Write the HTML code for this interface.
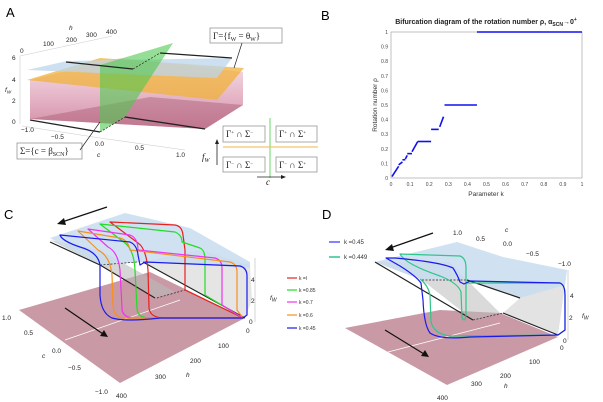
<!DOCTYPE html>
<html><head><meta charset="utf-8">
<style>
html,body{margin:0;padding:0;background:#fff;}
svg{display:block;font-family:"Liberation Sans",sans-serif;}
.lbl{font-size:13px;}
.t{font-size:6.5px;fill:#222;}
.tb{font-size:7px;font-weight:bold;fill:#222;}
.math{font-family:"Liberation Serif",serif;font-size:9px;fill:#222;}
</style></head>
<body>
<svg id="fig" width="603" height="402" viewBox="0 0 603 402">
<defs>
<linearGradient id="pinkG" x1="0" y1="0" x2="0" y2="1">
<stop offset="0" stop-color="#f3d3e0" stop-opacity="0.7"/><stop offset="1" stop-color="#c9708f" stop-opacity="0.8"/>
</linearGradient>
</defs>
<!-- PANEL A -->
<g>
<text x="6" y="17" class="lbl">A</text>
<g stroke="#ccc" stroke-width="0.6" fill="none">
<line x1="20" y1="56" x2="20" y2="124"/><line x1="20" y1="56" x2="112" y2="36"/><line x1="22" y1="126" x2="100" y2="138"/><line x1="100" y1="138" x2="185" y2="150"/>
</g>
<polygon points="30,119 205,129 243,105 243,72 120,58 30,80" fill="url(#pinkG)"/>
<polygon points="30,119 205,129 243,105 150,97" fill="#a85a74" opacity="0.45"/>
<polygon points="27,80 217,100 244,68 100,58" fill="#f0b23a" opacity="0.75"/>
<polygon points="27,70 217,78 232,58 67,61" fill="#bcd6ec" opacity="0.75"/>
<polygon points="100,65 100,132 125,117 173,43" fill="#4fc84f" opacity="0.6"/>
<g stroke="#222" stroke-width="1.3">
<line x1="66" y1="62" x2="133" y2="69"/><line x1="160" y1="53" x2="232" y2="58"/>
<line x1="30" y1="120" x2="100" y2="132"/><line x1="125" y1="117" x2="205" y2="129"/>
</g>
<g stroke="#222" stroke-width="0.7" stroke-dasharray="2,1.5"><line x1="133" y1="69" x2="160" y2="53"/><line x1="100" y1="132" x2="125" y2="117"/></g>
<g class="t">
<text x="12" y="60">6</text><text x="12" y="82">4</text><text x="12" y="103">2</text><text x="12" y="124">0</text>
<text x="5" y="92" font-style="italic">f<tspan font-size="4.5" dy="1.5">W</tspan></text>
<text x="20" y="53">0</text><text x="43" y="46">100</text><text x="66" y="42">200</text><text x="86" y="37">300</text><text x="106" y="34">400</text>
<text x="69" y="30" font-style="italic">h</text>
<text x="21" y="132">−1.0</text><text x="51" y="139">−0.5</text><text x="95" y="146">0.0</text><text x="135" y="150">0.5</text><text x="176" y="157">1.0</text>
<text x="97" y="157" font-style="italic">c</text>
</g>
<rect x="210" y="28" width="72" height="15" fill="#fff" stroke="#888" stroke-width="0.7"/>
<text x="213" y="39" class="math">Γ={f<tspan font-size="6" dy="2">W</tspan><tspan dy="-2"> = θ</tspan><tspan font-size="6" dy="2">W</tspan><tspan dy="-2">}</tspan></text>
<line x1="242" y1="43" x2="234" y2="68" stroke="#222" stroke-width="0.7"/>
<rect x="17" y="143" width="65" height="16" fill="#fff" stroke="#888" stroke-width="0.7"/>
<text x="20" y="154" class="math">Σ={c = β<tspan font-size="6" dy="2">SCN</tspan><tspan dy="-2">}</tspan></text>
<line x1="80" y1="150" x2="100" y2="122" stroke="#222" stroke-width="0.7"/>
<g>
<line x1="270" y1="118" x2="270" y2="178" stroke="#7ee07e" stroke-width="1.2"/>
<line x1="223" y1="147" x2="318" y2="147" stroke="#f4c36a" stroke-width="1.2"/>
<rect x="223" y="126" width="42" height="16" fill="#fff" stroke="#888" stroke-width="0.7"/>
<rect x="276" y="126" width="41" height="16" fill="#fff" stroke="#888" stroke-width="0.7"/>
<rect x="223" y="157" width="42" height="15" fill="#fff" stroke="#888" stroke-width="0.7"/>
<rect x="276" y="157" width="41" height="15" fill="#fff" stroke="#888" stroke-width="0.7"/>
<text x="226" y="137" class="math" font-size="8">Γ<tspan font-size="5" dy="-3">+</tspan><tspan dy="3"> ∩ Σ</tspan><tspan font-size="5" dy="-3">−</tspan></text>
<text x="279" y="137" class="math" font-size="8">Γ<tspan font-size="5" dy="-3">+</tspan><tspan dy="3"> ∩ Σ</tspan><tspan font-size="5" dy="-3">+</tspan></text>
<text x="226" y="168" class="math" font-size="8">Γ<tspan font-size="5" dy="-3">−</tspan><tspan dy="3"> ∩ Σ</tspan><tspan font-size="5" dy="-3">−</tspan></text>
<text x="279" y="168" class="math" font-size="8">Γ<tspan font-size="5" dy="-3">−</tspan><tspan dy="3"> ∩ Σ</tspan><tspan font-size="5" dy="-3">+</tspan></text>
<line x1="217" y1="165" x2="217" y2="142" stroke="#222" stroke-width="0.8"/><polygon points="217,139 215,144 219,144" fill="#222"/>
<text x="202" y="160" class="math" font-size="10" font-style="italic">f<tspan font-size="6" dy="2">W</tspan></text>
<line x1="257" y1="177" x2="282" y2="177" stroke="#222" stroke-width="0.8"/><polygon points="286,177 281,175 281,179" fill="#222"/>
<text x="266" y="185" class="math" font-style="italic">c</text>
</g>
</g>

<!-- PANEL B -->
<g id="panelB">
<text x="321" y="20" class="lbl">B</text>
<text x="486" y="24" text-anchor="middle" class="tb">Bifurcation diagram of the rotation number ρ, α<tspan font-size="5" dy="2">SCN</tspan><tspan dy="-2">→0</tspan><tspan font-size="5" dy="-3">+</tspan></text>
<rect x="391" y="32" width="191" height="146" fill="none" stroke="#999" stroke-width="0.6"/>
<text x="486" y="196" text-anchor="middle" font-size="6.5" fill="#333">Parameter k</text>
<text transform="translate(377,105) rotate(-90)" text-anchor="middle" font-size="6.5" fill="#333">Rotation number ρ</text>
<g id="bTicks"></g>
<g id="bMarks"></g>
</g>

<!-- PANEL C -->
<g>
<text x="4" y="219" class="lbl">C</text>
<polygon points="19,310 120,383 245,318 150,272" fill="#c99aa5"/>
<line x1="65" y1="340" x2="180" y2="300" stroke="#fff" stroke-width="0.7"/>
<polygon points="50,240 100,265 155,298 175,292 100,250" fill="#bbb" opacity="0.6"/>
<polygon points="143,262 245,318 252,300 250,265 200,250" fill="#ccc" opacity="0.5"/>
<polygon points="50,238 125,213 190,228 250,262 250,268 143,262 100,265" fill="#c8dcee" opacity="0.85"/>
<g stroke="#222" stroke-width="1.2"><line x1="50" y1="242" x2="100" y2="265"/><line x1="100" y1="265" x2="155" y2="298"/><line x1="143" y1="262" x2="245" y2="318"/></g>
<g stroke="#222" stroke-width="0.7" stroke-dasharray="2,1.5"><line x1="100" y1="265" x2="137" y2="262"/><line x1="157" y1="298" x2="185" y2="290"/></g>
<g fill="none" stroke-width="1.2" stroke-linejoin="round">
<path stroke="#e8211d" d="M110,222 L175,225 Q182,226 183,235 L185,250 L185,290 L243,318 L165,318 Q150,318 149,308 L148,270 Q146,248 138,243 Z"/>
<path stroke="#22dd22" d="M100,224 L175,232 Q182,235 182,242 L200,248 Q205,250 205,260 L205,295 L243,318 L150,318 Q137,318 137,308 L135,270 Q134,250 125,243 Z"/>
<path stroke="#ee33ee" d="M88,229 L130,235 Q138,238 138,250 L215,258 Q222,260 222,268 L222,305 L243,318 L135,318 Q122,318 122,308 L120,270 Q118,252 108,247 Z"/>
<path stroke="#f7901e" d="M78,231 L120,238 Q128,240 130,250 L230,262 Q237,264 237,272 L237,310 L243,318 L125,318 Q114,318 113,306 L112,275 Q110,256 98,250 Z"/>
<path stroke="#1a1aee" d="M60,235 L130,242 Q137,245 138,255 L140,265 L145,262 L240,266 Q247,268 247,276 L247,315 L243,318 L160,318 Q125,322 112,318 Q101,313 100,295 L100,265 Q98,252 80,247 Q62,241 60,235 Z"/>
</g>
<line x1="107" y1="207" x2="62" y2="222" stroke="#111" stroke-width="1.2"/><polygon points="57,224 64,218 66,225" fill="#111"/>
<line x1="65" y1="308" x2="103" y2="334" stroke="#111" stroke-width="1.2"/><polygon points="108,337 100,336 104,330" fill="#111"/>
<line x1="255" y1="258" x2="255" y2="322" stroke="#bbb" stroke-width="0.6"/>
<g class="t" font-size="7">
<text x="251" y="282">4</text><text x="251" y="303">2</text><text x="249" y="324">0</text>
<text x="270" y="300" font-style="italic">f<tspan font-size="5" dy="1.5">W</tspan></text>
<text x="246" y="333">0</text><text x="218" y="348">100</text><text x="190" y="363">200</text><text x="155" y="379">300</text><text x="116" y="398">400</text>
<text x="186" y="377" font-style="italic">h</text>
<text x="2" y="320">1.0</text><text x="24" y="335">0.5</text><text x="52" y="353">0.0</text><text x="68" y="370">−0.5</text><text x="95" y="394">−1.0</text>
<text x="42" y="358" font-style="italic">c</text>
</g>
<g font-size="5" fill="#333">
<line x1="287" y1="278" x2="297" y2="278" stroke="#e8211d" stroke-width="1.2"/><text x="299" y="280">k =l</text>
<line x1="287" y1="290" x2="297" y2="290" stroke="#22dd22" stroke-width="1.2"/><text x="299" y="292">k =0.85</text>
<line x1="287" y1="302" x2="297" y2="302" stroke="#ee33ee" stroke-width="1.2"/><text x="299" y="304">k =0.7</text>
<line x1="287" y1="315" x2="297" y2="315" stroke="#f7901e" stroke-width="1.2"/><text x="299" y="317">k =0.6</text>
<line x1="287" y1="328" x2="297" y2="328" stroke="#1a1aee" stroke-width="1.2"/><text x="299" y="330">k =0.45</text>
</g>
</g>

<!-- PANEL D -->
<g>
<text x="322" y="219" class="lbl">D</text>
<polygon points="345,328 447,385 558,337 500,313 440,310" fill="#c99aa5"/>
<line x1="388" y1="352" x2="500" y2="323" stroke="#fff" stroke-width="0.7"/>
<polygon points="375,262 422,280 473,320 500,313 467,280 450,262" fill="#bbb" opacity="0.55"/>
<polygon points="467,280 520,298 503,313 558,335 565,285" fill="#ccc" opacity="0.55"/>
<polygon points="375,262 457,242 503,257 567,270 565,285 520,298 467,280 422,280" fill="#c8dcee" opacity="0.85"/>
<g stroke="#222" stroke-width="1.2"><line x1="375" y1="262" x2="473" y2="320"/><line x1="467" y1="280" x2="520" y2="298"/><line x1="503" y1="313" x2="558" y2="335"/></g>
<g stroke="#222" stroke-width="0.7" stroke-dasharray="2,1.5"><line x1="422" y1="280" x2="467" y2="280"/><line x1="473" y1="320" x2="503" y2="313"/></g>
<g fill="none" stroke-width="1.2" stroke-linejoin="round">
<path stroke="#2ec68a" d="M400,254 L460,256 Q466,258 466,268 L466,315 Q465,323 462,318 L461,292 Q458,283 440,276 Q405,264 400,254 Z M467,283 L560,283 Q565,285 565,295 L565,330 L558,335 L450,336 Q434,334 431,322 L430,295 Q428,285 420,279"/>
<path stroke="#1a1aee" d="M386,258 L395,258 Q440,262 453,268 Q458,276 460,282 L464,284 L470,281 L560,283 Q565,285 565,295 L565,330 L558,335 L470,337 Q440,340 430,333 Q424,325 423,300 L421,283 Q416,276 400,266 Z"/>
</g>
<line x1="433" y1="233" x2="390" y2="248" stroke="#111" stroke-width="1.2"/><polygon points="385,250 392,244 394,251" fill="#111"/>
<line x1="385" y1="330" x2="424" y2="354" stroke="#111" stroke-width="1.2"/><polygon points="429,357 421,356 425,350" fill="#111"/>
<line x1="568" y1="270" x2="568" y2="340" stroke="#bbb" stroke-width="0.6"/>
<g class="t" font-size="7">
<text x="453" y="235">1.0</text><text x="476" y="241">0.5</text><text x="505" y="232" font-style="italic">c</text><text x="503" y="246">0.0</text><text x="526" y="256">−0.5</text><text x="558" y="266">−1.0</text>
<text x="570" y="298">4</text><text x="569" y="320">2</text><text x="563" y="343">0</text>
<text x="582" y="318" font-style="italic">f<tspan font-size="5" dy="1.5">W</tspan></text>
<text x="560" y="350">0</text><text x="529" y="364">100</text><text x="500" y="378">200</text><text x="504" y="388" font-style="italic">h</text><text x="471" y="386">300</text><text x="437" y="400">400</text>
</g>
<g font-size="6" fill="#333">
<line x1="329" y1="242" x2="340" y2="242" stroke="#5a5aff" stroke-width="1.5"/><text x="344" y="244">k =0.45</text>
<line x1="329" y1="257" x2="340" y2="257" stroke="#2ec68a" stroke-width="1.5"/><text x="344" y="259">k =0.449</text>
</g>
</g>
</svg>
<script>
// Panel B data: devil's staircase segments
const segKStart = [0.005, 0.04, 0.06, 0.075, 0.085, 0.11, 0.14, 0.21, 0.255, 0.28, 0.45];
const segKEnd   = [0.04, 0.06, 0.075, 0.085, 0.11, 0.14, 0.21, 0.25, 0.275, 0.45, 1.0];
const segRhoStart = [0.01, 0.09, 0.125, 0.13, 0.167, 0.18, 0.25, 0.333, 0.35, 0.5, 1.0];
const segRhoEnd   = [0.08, 0.11, 0.125, 0.155, 0.167, 0.25, 0.25, 0.333, 0.42, 0.5, 1.0];
const xTickLabels = ["0","0.1","0.2","0.3","0.4","0.5","0.6","0.7","0.8","0.9","1"];
const yTickLabels = ["0","0.1","0.2","0.3","0.4","0.5","0.6","0.7","0.8","0.9","1"];
const NS = "http://www.w3.org/2000/svg";
function xS(k){ return 391 + k * 191; }
function yS(r){ return 178 - r * 146; }
const tg = document.getElementById('bTicks');
xTickLabels.forEach(function(l){
  const v = parseFloat(l);
  const t = document.createElementNS(NS,'text');
  t.setAttribute('x', xS(v)); t.setAttribute('y', 186);
  t.setAttribute('text-anchor','middle'); t.setAttribute('font-size','5'); t.setAttribute('fill','#444');
  t.textContent = l;
  
  
  tg.appendChild(t);
});
yTickLabels.forEach(function(l){
  const v = parseFloat(l);
  const t = document.createElementNS(NS,'text');
  t.setAttribute('x', 388); t.setAttribute('y', yS(v) + 2);
  t.setAttribute('text-anchor','end'); t.setAttribute('font-size','5'); t.setAttribute('fill','#444');
  t.textContent = l;
  
  
  tg.appendChild(t);
});
const mg = document.getElementById('bMarks');
for (let i = 0; i < segKStart.length; i++) {
  const ln = document.createElementNS(NS,'line');
  ln.setAttribute('x1', xS(segKStart[i])); ln.setAttribute('x2', xS(segKEnd[i]));
  ln.setAttribute('y1', yS(segRhoStart[i])); ln.setAttribute('y2', yS(segRhoEnd[i]));
  ln.setAttribute('stroke', '#1010ee'); ln.setAttribute('stroke-width', '1.6');
  
  
  mg.appendChild(ln);
}
</script>
</body></html>
